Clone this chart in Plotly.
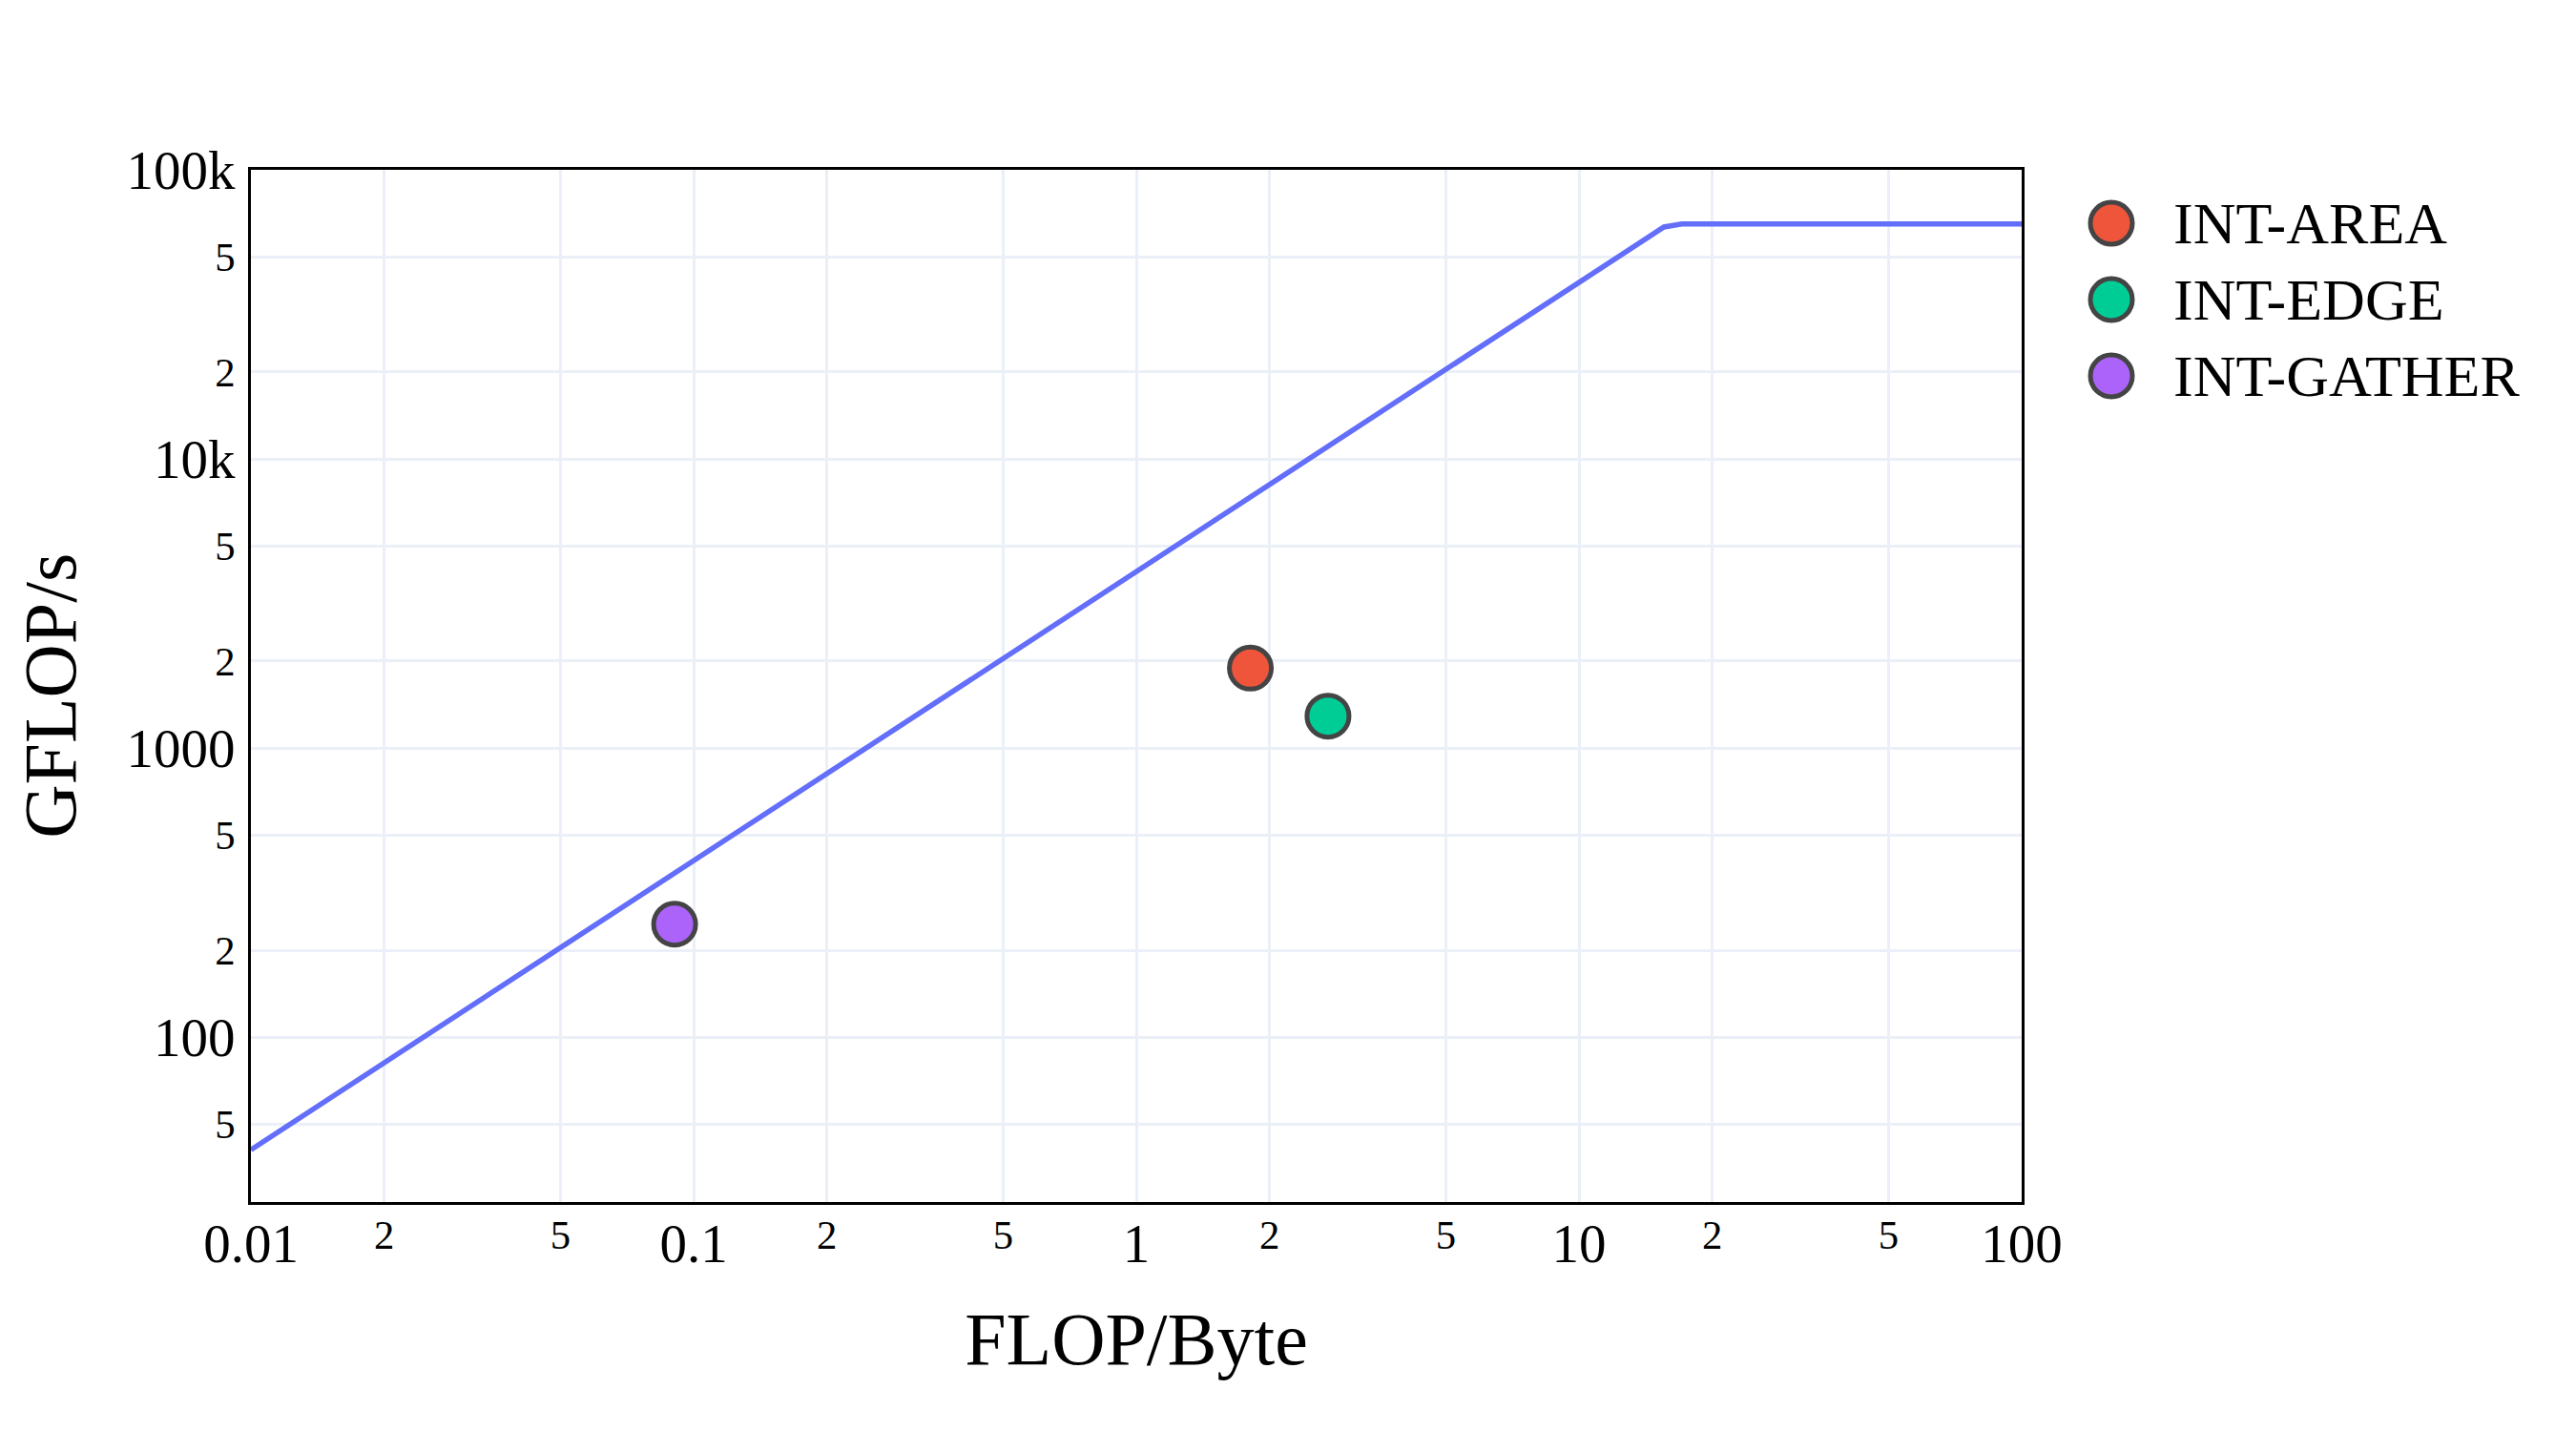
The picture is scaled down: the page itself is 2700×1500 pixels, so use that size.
import plotly.graph_objects as go

# ---- data ----
kernel_names = ["INT-AREA", "INT-EDGE", "INT-GATHER"]
kernel_intensity = [1.81, 2.71, 0.0906]      # FLOP/Byte
kernel_perf = [1890, 1290, 246]              # GFLOP/s
kernel_colors = ["#EF553B", "#00CC96", "#AB63FA"]

roof_x = [0.01, 15.55, 17.07, 100]           # FLOP/Byte
roof_y = [40.8, 63400, 65000, 65000]         # GFLOP/s

x_title = "FLOP/Byte"
y_title = "GFLOP/s"

FONT = "Liberation Serif"
# page body has an 8px margin; figure sized so page is 2700x1500
W, H = 2684, 1484
ML, MR, MT, MB = 255, 40, 170, 232
plot_right = 2111
PW = W - ML - MR
PH = H - MT - MB
main_dom_x = [0, (plot_right - ML) / PW]

fig = go.Figure()
fig.add_trace(go.Scatter(x=roof_x, y=roof_y, mode="lines",
                         line=dict(color="#636EFA", width=5.5),
                         showlegend=False, hoverinfo="skip"))
for n, xv, yv, c in zip(kernel_names, kernel_intensity, kernel_perf, kernel_colors):
    fig.add_trace(go.Scatter(x=[xv], y=[yv], mode="markers", name=n,
                             marker=dict(color=c, size=44,
                                         line=dict(color="#444444", width=5)),
                             showlegend=False))

# ---- custom legend (large markers) on a hidden axis pair ----
leg_rows = list(range(len(kernel_names) - 1, -1, -1))
fig.add_trace(go.Scatter(x=[0] * len(kernel_names), y=leg_rows, mode="markers",
                         marker=dict(color=kernel_colors, size=44,
                                     line=dict(color="#444444", width=5)),
                         xaxis="x2", yaxis="y2", showlegend=False, hoverinfo="skip"))
leg_x0 = 2170
leg_dom_x = [(leg_x0 - ML) / PW, 1.0]
leg_px_w = PW * (1 - leg_dom_x[0])
mark_px = 2205
text_px = 2268
x2_lo = -(mark_px - leg_x0) / leg_px_w
x2_range = [x2_lo, x2_lo + 1]
row_px = 80
center_px = 306
top_px = center_px - 1.5 * row_px
bot_px = center_px + 1.5 * row_px
leg_dom_y = [(H - MB - bot_px) / PH, (H - MB - top_px) / PH]

for n, r in zip(kernel_names, leg_rows):
    fig.add_annotation(x=x2_range[0] + (text_px - leg_x0) / leg_px_w, y=r,
                       xref="x2", yref="y2", text=n, showarrow=False,
                       xanchor="left", yanchor="middle",
                       font=dict(family=FONT, size=62, color="black"))

# y-axis title as rotated annotation (placed further left than margins allow)
fig.add_annotation(x=(45 - ML) / PW, y=0.49, xref="paper", yref="paper",
                   text=y_title, textangle=-90, showarrow=False,
                   xanchor="center", yanchor="middle",
                   font=dict(family=FONT, size=78, color="black"))

axis_common = dict(type="log", dtick="D2", showgrid=True, gridcolor="#EBF0F8",
                   gridwidth=3, showline=True, linecolor="black", linewidth=3,
                   mirror=True, zeroline=False, ticks="",
                   tickfont=dict(family=FONT, size=57, color="black"))

fig.update_layout(
    width=W, height=H,
    margin=dict(l=ML, r=MR, t=MT, b=MB, autoexpand=False),
    paper_bgcolor="white", plot_bgcolor="white",
    font=dict(family=FONT, color="black"),
    showlegend=False,
    xaxis=dict(axis_common, range=[-2, 2], domain=main_dom_x, ticklabelstandoff=-8,
               title=dict(text=x_title, font=dict(family=FONT, size=78), standoff=41)),
    yaxis=dict(axis_common, range=[1.43, 5], ticklabelstandoff=2),
    xaxis2=dict(domain=leg_dom_x, range=x2_range, visible=False, anchor="y2",
                fixedrange=True),
    yaxis2=dict(domain=leg_dom_y, range=[-0.5, 2.5], visible=False, anchor="x2",
                fixedrange=True),
)

fig.write_html("out.html")
